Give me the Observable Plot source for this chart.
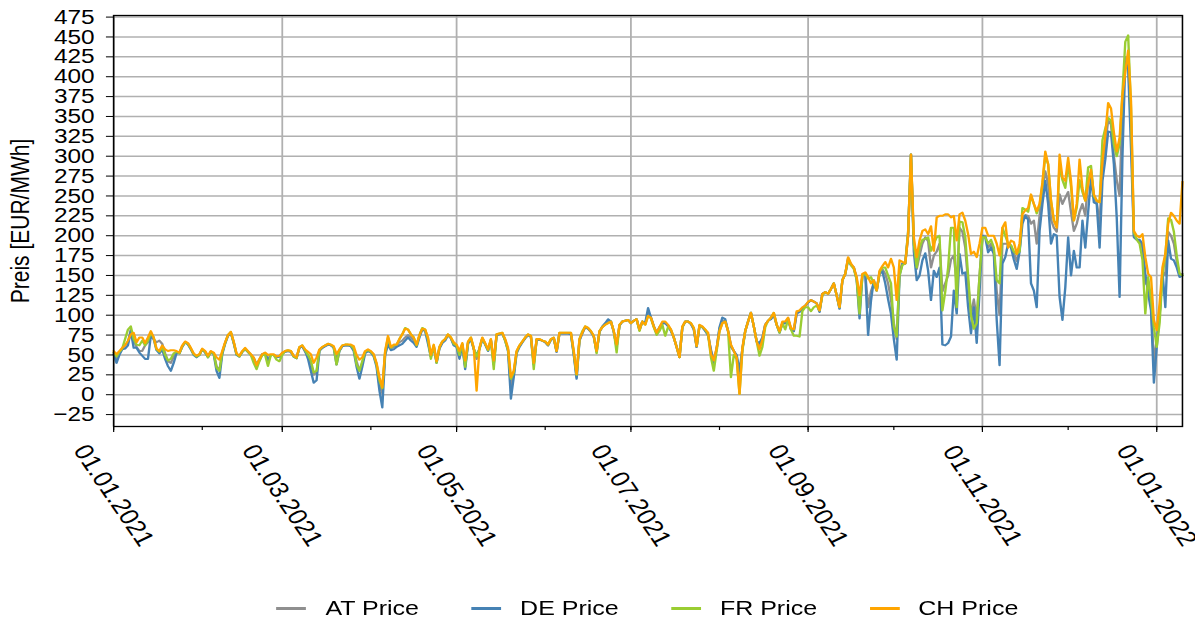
<!DOCTYPE html>
<html>
<head>
<meta charset="utf-8">
<script src="https://cdn.jsdelivr.net/npm/d3@7"></script>
<script src="https://cdn.jsdelivr.net/npm/@observablehq/plot@0.6"></script>
<style>
  html, body { margin: 0; padding: 0; background: #fff; }
  #wrap { position: relative; width: 1004px; height: 620px; transform: scaleX(1.1902); transform-origin: 0 0; font-family: "Liberation Sans", Arial, sans-serif; }
  #legend { position: absolute; left: 95px; width: 898px; top: 596px; height: 24px; display: flex; justify-content: center; align-items: center; font-size: 21px; color: #000; }
  .item { display: flex; align-items: center; margin: 0 22px; }
  .sw { width: 25px; height: 3px; margin-right: 16px; }
</style>
</head>
<body>
<div id="wrap"><div id="chart"></div><div id="legend"></div></div>
<script>
// ---- data (daily prices, EUR/MWh), 01.01.2021 .. 10.01.2022 ----
const startDay = "01.01.2021";
const endDay = "10.01.2022";
const seriesNames = ["AT Price", "DE Price", "FR Price", "CH Price"];
const seriesColors = ["#8f8f8f", "#4682b4", "#9acd32", "#ffa500"];
const yTicks = [-25, 0, 25, 50, 75, 100, 125, 150, 175, 200, 225, 250, 275, 300, 325, 350, 375, 400, 425, 450, 475];
const xTickLabels = ["01.01.2021", "01.03.2021", "01.05.2021", "01.07.2021", "01.09.2021", "01.11.2021", "01.01.2022"];
const yLabel = "Preis [EUR/MWh]";

const atPrice = [
  53,45,52,58,62,66,82,68,60,55,55,62,66,76,70,66,68,64,52,42,40,48,53,52,61,66,64,58,51,48,50,
  57,54,48,54,52,36,30,53,65,75,78,66,51,48,54,58,54,50,46,38,44,51,52,45,50,50,47,48,
  52,54,55,54,48,46,59,61,54,50,40,25,28,56,59,61,63,62,60,44,56,61,62,62,61,57,42,30,40,53,55,
  54,50,38,12,2,52,66,58,60,62,66,68,72,75,72,68,62,74,83,81,68,48,61,41,59,66,69,75,71,63,
  61,50,63,36,65,71,58,45,58,71,64,56,69,40,75,76,77,69,57,10,25,54,61,66,71,75,73,38,69,69,68,
  66,62,69,71,54,77,77,77,77,77,52,22,69,78,85,83,79,73,54,79,85,89,92,92,79,60,87,92,93,94,
  90,93,95,81,92,89,104,97,86,77,84,90,90,87,81,72,60,47,85,92,92,89,83,60,87,85,81,74,57,42,58,
  83,93,93,80,60,55,48,20,58,80,92,103,86,67,60,70,88,93,96,102,88,79,90,90,96,83,80,103,105,108,112,
  116,119,117,115,105,127,129,127,133,140,125,109,144,152,172,164,160,146,110,151,153,110,130,140,131,154,158,152,140,120,
  90,70,155,165,165,205,302,190,158,175,190,198,193,160,175,180,190,130,140,150,170,175,140,210,205,185,140,100,120,95,150,
  200,200,185,190,180,130,100,190,190,190,188,178,168,182,222,226,225,215,219,190,225,260,281,265,220,210,205,252,240,248,
  255,230,206,215,230,240,225,270,280,248,242,215,285,315,345,340,300,270,250,360,425,420,340,200,196,193,185,140,138,115,40,
  70,100,155,150,205,200,190,168,150,152
];
const dePrice = [
  51,40,50,57,58,62,80,59,59,53,49,45,45,74,70,56,52,57,45,36,30,40,52,52,60,66,63,57,50,47,50,
  57,53,47,54,51,30,21,51,64,74,78,65,50,48,54,57,54,50,46,38,43,51,52,42,50,50,47,48,
  52,54,55,54,48,46,59,61,55,45,30,15,18,55,59,61,63,62,59,38,55,61,62,62,61,55,35,20,35,52,55,
  53,48,35,5,-16,50,63,56,57,60,62,64,68,72,68,65,60,72,82,80,64,48,60,40,58,65,68,75,71,62,
  60,45,62,32,64,70,57,50,57,70,63,55,68,38,75,76,77,68,55,-5,22,52,60,66,71,75,73,38,69,69,68,
  66,62,69,71,54,77,77,77,77,76,50,20,68,77,85,83,79,73,54,79,86,90,95,92,79,60,87,92,93,94,
  90,93,95,82,92,90,109,97,86,78,85,90,90,86,80,72,60,47,85,92,92,89,82,60,87,85,80,76,55,40,58,
  85,97,95,80,62,55,50,30,57,80,92,103,86,67,65,72,88,93,95,100,88,78,90,90,95,82,80,102,104,108,112,
  116,119,117,115,104,127,129,127,133,140,125,108,144,152,170,163,160,145,96,150,152,75,118,144,131,152,155,140,120,102,
  70,44,150,165,165,200,302,180,144,150,169,178,156,119,156,148,160,63,62,65,73,131,102,177,152,154,110,77,110,65,130,
  200,198,179,185,177,94,37,165,173,190,185,170,158,180,215,225,220,140,131,110,206,240,269,240,190,202,200,123,94,135,
  198,150,181,160,160,219,185,230,273,242,240,185,269,296,331,330,290,223,123,300,419,410,310,198,195,195,190,152,127,106,15,
  60,100,155,110,194,171,169,160,148,150
];
const frPrice = [
  53,48,54,58,70,82,86,70,63,62,68,62,68,78,72,57,54,60,50,43,45,52,54,52,61,66,64,58,51,48,50,
  57,54,47,54,52,34,30,53,65,75,79,66,51,48,54,58,54,50,40,32,42,50,50,36,50,50,44,42,
  50,55,56,55,48,46,60,62,56,50,43,28,30,56,60,62,64,63,60,38,56,62,63,63,62,58,38,30,42,54,56,
  54,50,38,18,8,54,72,59,62,63,70,76,84,82,76,72,62,75,84,82,70,45,62,40,60,67,70,76,72,64,
  62,50,64,35,66,72,58,48,58,71,64,56,69,32,76,77,78,68,56,20,28,54,62,67,72,76,74,32,70,70,68,
  67,63,70,72,55,78,78,78,78,78,53,25,70,80,86,84,80,74,52,80,85,88,90,92,80,53,88,92,93,94,
  90,93,95,80,92,88,99,96,85,75,80,88,74,85,82,72,60,47,85,92,92,90,84,61,87,85,82,76,47,30,55,
  80,90,92,80,22,50,45,1,55,80,92,103,86,67,49,60,85,93,97,103,88,78,90,82,95,82,74,74,73,105,110,
  110,105,110,112,106,125,129,127,133,140,125,110,144,152,170,163,158,145,102,150,152,146,148,140,131,154,160,160,150,140,
  85,73,150,163,165,205,302,190,160,185,195,196,198,181,190,198,200,106,130,160,210,210,110,218,217,198,150,100,83,90,150,
  198,198,190,195,185,144,140,210,200,190,188,180,177,180,235,233,230,250,240,228,238,265,300,290,244,219,213,290,270,260,
  290,262,219,235,270,255,244,286,288,250,244,242,320,335,348,345,315,300,315,380,444,452,360,204,195,190,170,102,148,120,85,
  60,90,150,175,222,220,205,175,152,150
];
const chPrice = [
  55,51,55,59,62,68,76,78,66,72,72,65,72,80,72,58,55,62,57,55,56,56,55,53,62,67,65,59,52,49,51,
  58,55,49,55,53,47,44,55,66,75,79,67,52,49,55,59,55,51,47,37,45,51,53,50,51,51,48,49,
  53,55,56,55,49,47,60,62,57,54,51,40,47,57,60,62,64,63,61,51,57,62,63,63,63,61,50,44,47,55,57,
  55,51,40,22,9,55,74,60,63,63,70,76,83,82,76,72,63,75,83,82,72,50,63,42,60,67,70,76,72,66,
  63,55,65,43,67,72,59,5,59,72,65,57,70,43,76,77,78,70,59,22,30,55,62,67,72,76,74,40,70,70,68,
  67,63,70,72,55,78,78,78,78,78,55,26,70,78,86,84,80,74,55,80,85,88,90,92,80,63,88,92,93,94,
  90,93,95,82,92,88,99,97,86,78,85,92,92,88,82,72,60,47,86,92,92,90,84,61,88,86,82,78,51,43,59,
  80,90,92,80,63,55,47,1,59,80,92,103,86,67,57,69,88,93,97,103,88,80,92,92,97,84,82,105,106,110,112,
  117,119,117,115,106,127,129,127,133,140,125,110,144,152,173,165,160,148,125,152,154,148,140,144,131,156,162,167,160,171,
  160,119,169,167,165,200,302,198,173,194,206,208,202,212,181,223,225,225,227,227,223,225,194,227,229,219,202,177,180,173,190,
  210,210,200,200,200,190,175,210,217,185,194,192,177,190,227,232,235,252,240,231,240,267,306,290,244,219,210,302,273,269,
  298,269,219,240,296,260,244,265,283,252,244,242,294,327,367,360,330,306,323,377,406,433,369,206,200,198,202,173,152,148,94,
  81,115,160,177,215,229,225,219,215,268
];
const seriesValues = [atPrice, dePrice, frPrice, chPrice];

// ---- chart ----
const parseDay = d3.utcParse("%d.%m.%Y");
const t0 = parseDay(startDay), t1 = parseDay(endDay);
const dates = d3.utcDay.range(t0, d3.utcDay.offset(t1, 1));
const majorDates = xTickLabels.map(parseDay);
const minorDates = d3.utcMonth.range(t0, t1);
const labelOf = new Map(majorDates.map((d, i) => [+d, xTickLabels[i]]));

const W = 1004, H = 590;
const lines = seriesValues.map((vals, k) =>
  Plot.lineY(vals.slice(0, dates.length), {
    x: (d, i) => dates[i], y: d => d,
    stroke: seriesColors[k], strokeWidth: 2, strokeLinejoin: "round"
  })
);

const chart = Plot.plot({
  width: W, height: H,
  marginLeft: 95, marginRight: 11, marginTop: 15, marginBottom: 164,
  style: { fontFamily: "Liberation Sans, Arial, sans-serif", fontSize: "21px", background: "#fff", color: "#000" },
  x: { type: "utc", domain: [t0, t1] },
  y: { domain: [-40, 477] },
  marks: [
    Plot.gridY(yTicks, { stroke: "#b0b0b0", strokeOpacity: 1, strokeWidth: 1.5 }),
    Plot.gridX(majorDates, { stroke: "#b0b0b0", strokeOpacity: 1, strokeWidth: 1.5 }),
    ...lines,
    Plot.frame({ stroke: "#000", strokeWidth: 1.3 }),
    Plot.axisY(yTicks, {
      tickSize: 6, tickPadding: 10, fontSize: 20.5, label: null,
      tickFormat: d => d < 0 ? "\u2212" + Math.abs(d) : String(d)
    }),
    Plot.axisX(minorDates, { tickSize: 4, tickFormat: () => "", label: null }),
    Plot.axisX(majorDates, { tickSize: 6, tickFormat: () => "", label: null }),
    Plot.text(majorDates, {
      x: d => d, frameAnchor: "bottom", text: d => labelOf.get(+d),
      rotate: 60, textAnchor: "middle", lineAnchor: "middle", dy: 69, fontSize: 22.5
    }),
    Plot.text([yLabel], {
      frameAnchor: "left", text: d => d, rotate: -90, dx: -78,
      textAnchor: "middle", lineAnchor: "middle", fontSize: 21
    })
  ]
});
document.getElementById("chart").appendChild(chart);

const legend = document.getElementById("legend");
seriesNames.forEach((name, k) => {
  const it = document.createElement("div");
  it.className = "item";
  const sw = document.createElement("span");
  sw.className = "sw";
  sw.style.background = seriesColors[k];
  const tx = document.createElement("span");
  tx.textContent = name;
  it.appendChild(sw); it.appendChild(tx);
  legend.appendChild(it);
});
</script>
</body>
</html>
